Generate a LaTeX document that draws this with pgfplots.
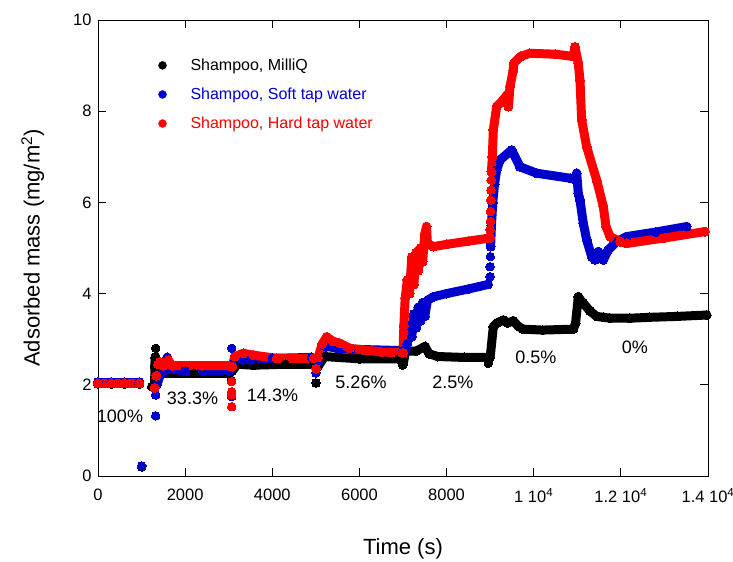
\documentclass[border=0pt]{standalone}
\usepackage{pgfplots}
\pgfplotsset{compat=1.18}
\usepackage{fontspec}
\setmainfont{Liberation Sans}
\definecolor{sblue}{RGB}{0,0,204}
\definecolor{sred}{RGB}{255,0,0}

\pgfplotsset{
  seg/.style={line width=9bp, line join=round, line cap=round, mark=*, mark size=4.5bp, mark options={line width=0bp}, forget plot},
  dots/.style={only marks, mark=*, mark size=4.3bp, mark options={line width=0bp}, forget plot},
}

\begin{document}
\begin{tikzpicture}
\useasboundingbox (-98bp,-86bp) rectangle (635bp,476bp);
\begin{axis}[
    at={(0,0)}, anchor=south west,
    scale only axis, width=610bp, height=456bp,
    xmin=0, xmax=14000, ymin=0, ymax=10,
    xtick={0,2000,4000,6000,8000,10000,12000,14000},
    xticklabels={0,2000,4000,6000,8000,1 10\textsuperscript{4},1.2 10\textsuperscript{4},1.4 10\textsuperscript{4}},
    ytick={0,2,4,6,8,10},
    /pgf/number format/assume math mode=true,
    scaled x ticks=false,
    tick align=inside, major tick length=8bp,
    tick style={black, line width=0.8bp},
    axis line style={line width=0.9bp},
    ticklabel style={font=\fontsize{16.5bp}{19bp}\selectfont},
    xticklabel style={yshift=-9bp},
    yticklabel style={xshift=-3bp},
    xlabel={Time (s)},
    ylabel={Adsorbed mass (mg/m\textsuperscript{2})},
    every axis x label/.style={at={(axis description cs:0.5,-0.16)}, anchor=center, font=\fontsize{22bp}{26bp}\selectfont},
    every axis y label/.style={at={(axis description cs:-0.107,0.5)}, rotate=90, anchor=center, font=\fontsize{22bp}{26bp}\selectfont},
    clip=false,
    legend style={at={(0.094,0.924)}, anchor=north west, draw=none, fill=none,
      font=\fontsize{16bp}{19bp}\selectfont, row sep=12bp,
      /tikz/every odd column/.append style={column sep=22bp}},
    legend cell align=left,
]
\addlegendimage{only marks, mark=*, mark size=4bp, black}
\addlegendentry{Shampoo, MilliQ}
\addlegendimage{only marks, mark=*, mark size=4bp, sblue}
\addlegendentry{\textcolor{sblue}{Shampoo, Soft tap water}}
\addlegendimage{only marks, mark=*, mark size=4bp, sred}
\addlegendentry{\textcolor{sred}{Shampoo, Hard tap water}}

% MilliQ
\addplot[seg, black] coordinates {(0,2.02) (300,2.02) (600,2.02) (950,2.02)};
\addplot[dots, black] coordinates {(1003,0.2) (1232,1.96) (1324,2.8) (1324,2.62) (1300,2.4)};
\addplot[seg, black] coordinates {(1300,2.05) (1310,2.6) (1340,2.3) (1500,2.25) (2200,2.25) (3000,2.25)};
\addplot[dots, black] coordinates {(3060,2.1)};
\addplot[seg, black] coordinates {(3080,2.3) (3200,2.45) (3565,2.43) (4300,2.45) (4950,2.45)};
\addplot[dots, black] coordinates {(5003,2.04)};
\addplot[seg, black] coordinates {(5050,2.4) (5200,2.62) (5500,2.6) (6000,2.57) (6900,2.57)};
\addplot[dots, black] coordinates {(6992,2.43)};
\addplot[seg, black] coordinates {(7007,2.47) (7060,2.74) (7300,2.74) (7505,2.84) (7600,2.68) (7800,2.62) (8400,2.6) (8950,2.6)};
\addplot[dots, black] coordinates {(8958,2.47)};
\addplot[seg, black] coordinates {(9000,2.6) (9073,3.27) (9150,3.35) (9302,3.42) (9400,3.36) (9531,3.4) (9650,3.28) (9761,3.22) (10200,3.2) (10909,3.22) (10960,3.35) (11023,3.93) (11080,3.85) (11138,3.79) (11290,3.62) (11444,3.5) (11600,3.48) (11750,3.46) (12200,3.46) (12668,3.48) (13300,3.5) (13970,3.53)};

% Soft tap water
\addplot[seg, sblue] coordinates {(0,2.06) (300,2.06) (600,2.06) (950,2.06)};
\addplot[dots, sblue] coordinates {(1003,0.22) (1324,1.32) (1324,1.78)};
\addplot[seg, sblue] coordinates {(1350,2.0) (1420,2.2) (1500,2.3) (1590,2.6) (1650,2.35) (2000,2.3) (3000,2.3)};
\addplot[dots, sblue] coordinates {(3068,2.8) (3068,1.74)};
\addplot[seg, sblue] coordinates {(3080,2.45) (3300,2.55) (3500,2.55) (4000,2.58) (4900,2.6)};
\addplot[dots, sblue] coordinates {(5003,2.26)};
\addplot[seg, sblue] coordinates {(5050,2.5) (5200,2.85) (5500,2.8) (5800,2.78) (7000,2.75)};
\addplot[seg, sblue] coordinates {(7050,2.75) (7100,2.9) (7150,3.3) (7200,3.05) (7250,3.55) (7300,3.25) (7350,3.7) (7400,3.4) (7450,3.8) (7500,3.5) (7560,3.85) (7700,3.93) (8000,4.0) (8500,4.1) (8950,4.2)};
\addplot[dots, sblue] coordinates {(9000,4.37) (9000,4.59) (9005,4.81)};
\addplot[seg, sblue] coordinates {(9010,5.03) (9030,5.5) (9060,6.0) (9100,6.4) (9150,6.71) (9226,6.93) (9494,7.15) (9685,6.78) (10068,6.64) (10833,6.53) (10960,6.5) (10986,6.64) (11023,6.2) (11062,6.05) (11138,5.54) (11215,5.18) (11330,4.81) (11406,4.74) (11482,4.92) (11597,4.74) (11712,4.96) (11903,5.14) (12133,5.25) (12800,5.35) (13510,5.47)};

% Hard tap water
\addplot[seg, sred] coordinates {(0,2.03) (300,2.03) (600,2.03) (950,2.03)};
\addplot[seg, sred] coordinates {(1300,1.93) (1340,2.2) (1380,2.45) (1423,2.5) (1500,2.42) (1614,2.54) (1700,2.42) (2400,2.42) (3000,2.42)};
\addplot[dots, sred] coordinates {(3068,2.07) (3068,1.85) (3068,1.78) (3068,1.52)};
\addplot[seg, sred] coordinates {(3080,2.4) (3140,2.62) (3335,2.69) (3565,2.65) (4100,2.58) (4950,2.58)};
\addplot[dots, sred] coordinates {(5003,2.35)};
\addplot[seg, sred] coordinates {(5050,2.6) (5150,2.9) (5248,3.05) (5400,2.95) (5554,2.91) (5783,2.8) (6500,2.72) (6990,2.7)};
\addplot[seg, sred] coordinates {(7000,2.7) (7020,3.3) (7050,3.9) (7100,4.3) (7150,4.0) (7200,4.8) (7250,4.2) (7300,4.9) (7350,4.5) (7400,5.0) (7450,4.7) (7500,5.3) (7540,5.47) (7560,5.1) (7700,5.03) (8000,5.08) (8500,5.15) (9000,5.22)};
\addplot[dots, sred] coordinates {(9000,5.4) (9005,5.58) (9010,5.8) (9015,6.05) (9020,6.27) (9025,6.49)};
\addplot[seg, sred] coordinates {(9030,6.67) (9050,7.0) (9073,7.59) (9150,8.1) (9302,8.25) (9380,8.35) (9420,8.1) (9455,8.54) (9531,8.9) (9540,9.05) (9700,9.2) (9914,9.27) (10500,9.25) (10909,9.2) (10947,9.41) (11023,9.05) (11062,8.68) (11100,7.81) (11215,7.22) (11444,6.49) (11597,5.91) (11659,5.47) (11750,5.25) (11980,5.14) (12133,5.1) (13000,5.22) (13930,5.36)};

% dilution labels
\begin{scope}[every node/.style={font=\fontsize{18bp}{21bp}\selectfont, anchor=center}]
\node at (axis cs:505,1.30) {100\%};
\node at (axis cs:2169,1.70) {33.3\%};
\node at (axis cs:4005,1.77) {14.3\%};
\node at (axis cs:6036,2.05) {5.26\%};
\node at (axis cs:8147,2.06) {2.5\%};
\node at (axis cs:10048,2.60) {0.5\%};
\node at (axis cs:12324,2.82) {0\%};
\end{scope}
\end{axis}
\end{tikzpicture}
\end{document}
